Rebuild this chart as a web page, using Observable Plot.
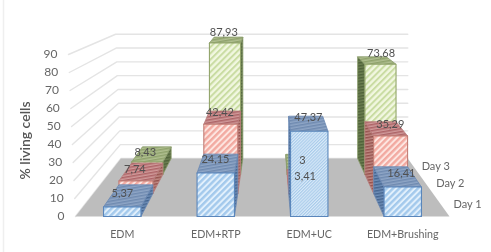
<!DOCTYPE html>
<html>
<head>
<meta charset="utf-8">
<style>html,body{margin:0;padding:0;background:#fff}svg{display:block}</style>
<script src="https://cdn.jsdelivr.net/npm/d3@7"></script>
<script src="https://cdn.jsdelivr.net/npm/@observablehq/plot@0.6"></script>
</head>
<body>
<script>
const treatments = ["EDM", "EDM+RTP", "EDM+UC", "EDM+Brushing"];
const days = ["Day 1", "Day 2", "Day 3"];
const day1 = [5.37, 24.15, 47.37, 16.41];
const day2 = [7.74, 42.42, 3.41, 35.29];
const day3 = [8.43, 87.93, 3, 73.68];
const dayLabels1 = ["5,37", "24,15", "47,37", "16,41"];
const dayLabels2 = ["7,74", "42,42", "3,41", "35,29"];
const dayLabels3 = ["8,43", "87,93", "3", "73,68"];
const yTicks = [0, 10, 20, 30, 40, 50, 60, 70, 80, 90];

const series = [day1, day2, day3];
const seriesLabels = [dayLabels1, dayLabels2, dayLabels3];
const colorNames = ["blue", "red", "green"];

// Perspective: u in category bands, d in depth (0 front .. 1 back), v in %
const k = 0.304, uV = 2.086, vV = 138.3;
const persp = (u, d, v) => {
  const w = 1 / (1 + k * d);
  return {x: uV + (u - uV) * w, y: vV + (v - vV) * w};
};
const wallU = (v) => -v / 1200;
const barHalf = 0.2;

const face = (pts, fill, stroke, sw = 0.8) => Plot.line([...pts, pts[0]], {
  x: "x", y: "y", fill, stroke, strokeWidth: sw, strokeLinejoin: "round"
});

const hatch = (id, bg, fg, w, sw, angle = 45) => `
  <pattern id="${id}" width="${w}" height="${w}" patternUnits="userSpaceOnUse" patternTransform="rotate(${angle})">
    <rect width="${w}" height="${w}" fill="${bg}"/>
    <rect width="${sw}" height="${w}" fill="${fg}"/>
  </pattern>`;

const defsMark = () => {
  const g = document.createElementNS("http://www.w3.org/2000/svg", "defs");
  g.innerHTML =
    hatch("front-blue", "#e2f0fc", "#a3c9ec", 4.4, 2.4) +
    hatch("fine-blue", "#d8e9f8", "#a9cbea", 2.2, 1.1) +
    hatch("front-red", "#fde6e1", "#f2aaa1", 4.4, 2.4) +
    hatch("front-green", "#f1f7e0", "#c9dca2", 4.4, 2.0) +
    hatch("top-blue", "#8fa6c6", "#6f8ab0", 3, 1.5, 80) +
    hatch("top-red", "#d09a9a", "#ad6467", 3, 1.5, 80) +
    hatch("top-green", "#b0bf90", "#8fa26c", 3, 1.5, 80) +
    hatch("side-blue", "#6f8fb8", "#466690", 3, 1.5, 80) +
    hatch("side-red", "#c08a84", "#96524e", 3, 1.5, 80) +
    hatch("side-green", "#6d8052", "#4f6239", 3, 1.5, 80);
  return g;
};
const strokes = {blue: "#5a86bb", red: "#c27e76", green: "#93a56c"};
const topStrokes = {blue: "#6a88b2", red: "#b67a7a", green: "#8a9c6c"};

const marks = [defsMark];

// faint outer chart border
marks.push(Plot.frame({anchor: "left", insetLeft: 3, stroke: "#efefef", strokeWidth: 1.5}));

// wall + back gridlines
for (const v of yTicks) {
  marks.push(Plot.line([persp(wallU(v), 0, v), persp(wallU(v), 1, v), persp(4, 1, v)], {
    x: "x", y: "y", stroke: "#e4e4e4", strokeWidth: 1.4
  }));
}

// floor
marks.push(face([persp(0, 0, 0), persp(0, 1, 0), persp(4, 1, 0), persp(4, 0, 0)], "#bdbdbd", "none", 0));

// bars, back to front
for (let s = 2; s >= 0; s--) {
  const d0 = s / 3, d1 = (s + 1) / 3, c = colorNames[s];
  series[s].forEach((v, i) => {
    const l = i + 0.5 - barHalf, r = i + 0.5 + barHalf;
    const sideU = (l + r) / 2 < uV ? r : l;
    marks.push(face(
      [persp(sideU, d0, 0), persp(sideU, d1, 0), persp(sideU, d1, v), persp(sideU, d0, v)],
      `url(#side-${c})`, topStrokes[c]
    ));
    marks.push(face(
      [persp(l, d0, v), persp(r, d0, v), persp(r, d1, v), persp(l, d1, v)],
      `url(#top-${c})`, topStrokes[c]
    ));
    const frontFill = (s === 0 && i === 2) ? "url(#fine-blue)" : `url(#front-${c})`;
    marks.push(face(
      [persp(l, d0, 0), persp(r, d0, 0), persp(r, d0, v), persp(l, d0, v)],
      frontFill, strokes[c], 1.1
    ));
  });
}

// value labels
const labelRows = [];
series.forEach((vals, s) => vals.forEach((v, i) => {
  const p = persp(i + 0.5, (s + 0.5) / 3, v * 1.05 + 0.8);
  labelRows.push({...p, text: seriesLabels[s][i], nudge: 4 * (i - 1.5) - 1});
}));
const fontFamily = "Lato, 'Open Sans', sans-serif";
for (const row of labelRows) {
  marks.push(Plot.text([row], {
    x: "x", y: "y", text: "text", dx: row.nudge, fill: "#505050",
    fontSize: 11, fontFamily
  }));
}

// y tick labels
marks.push(Plot.text(yTicks.map((v) => ({...persp(wallU(v), 0, v), text: String(v)})), {
  x: "x", y: "y", text: "text", textAnchor: "end", dx: -11, fill: "#666", fontSize: 12, fontFamily
}));

// category labels
marks.push(Plot.text(treatments.map((t, i) => ({...persp(i + 0.5, 0, -10), text: t})), {
  x: "x", y: "y", text: "text", fill: "#666", fontSize: 10.7, fontFamily
}));

// depth labels
marks.push(Plot.text(days.map((t, s) => ({...persp(4.3, (s + 0.5) / 3, 0), text: t})), {
  x: "x", y: "y", text: "text", fill: "#666", fontSize: 11, fontFamily
}));

// axis title
marks.push(Plot.text(["% living cells"], {
  frameAnchor: "left", dx: 25, dy: 14, rotate: -90, textAnchor: "middle", fill: "#555",
  fontSize: 14, fontWeight: 600, fontFamily
}));

const chart = Plot.plot({
  width: 491, height: 252,
  margin: 0,
  x: {domain: [-0.802, 4.449], range: [0, 491], axis: null},
  y: {domain: [-20, 120], range: [252, 0], axis: null},
  style: {background: "#fff", filter: "blur(0.45px)"},
  marks
});
document.body.appendChild(chart);
</script>
</body>
</html>
